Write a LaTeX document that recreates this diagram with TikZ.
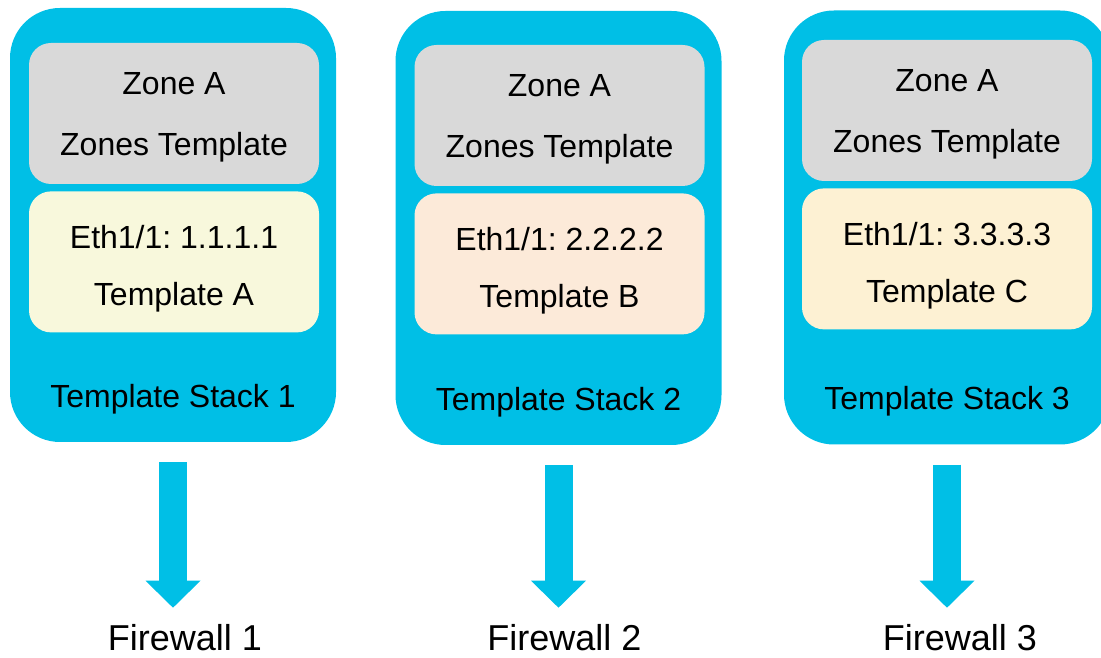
\documentclass[tikz,border=0pt]{standalone}
\usepackage{fontspec}
\setmainfont{Liberation Sans}
\usetikzlibrary{positioning,arrows.meta}
\definecolor{stackblue}{RGB}{0,191,230}
\definecolor{zonegray}{RGB}{217,217,217}
\definecolor{tplyellow}{RGB}{248,248,220}
\definecolor{tplpeach}{RGB}{252,234,217}
\definecolor{tplcream}{RGB}{253,241,211}
\newcommand{\zonelift}{\rule{0pt}{30pt}}
\newcommand{\tpllift}{\rule{0pt}{36pt}}
\frenchspacing
\begin{document}
\begin{tikzpicture}[x=1pt,y=1pt,
        stackbox/.style={fill=stackblue, rounded corners=50pt, minimum width=326pt, minimum height=434pt, inner sep=0pt},
        zonebox/.style={fill=zonegray, rounded corners=22pt, minimum width=290pt, minimum height=141pt, align=center, font=\fontsize{32}{61}\selectfont},
        tplbox/.style={rounded corners=22pt, minimum width=290pt, minimum height=141pt, align=center, font=\fontsize{32}{57}\selectfont},
        stacklabel/.style={anchor=base, font=\fontsize{32}{38}\selectfont},
        fwlabel/.style={anchor=base, inner sep=0pt, font=\fontsize{36}{43}\selectfont},
        push/.style={draw=stackblue, line width=28pt, -{Triangle[width=55pt,length=27pt,line width=0pt]}, shorten <=20pt, shorten >=17pt}]
        \useasboundingbox (0,0) rectangle (1101,658);

        \node[stackbox] (s1) at (173,433) {};
        \node[stackbox] (s2) at (558.5,430) {};
        \node[stackbox] (s3) at (947,430.5) {};

        \node[zonebox] (z1) at (174,544.5) {\zonelift Zone A\\Zones Template};
        \node[zonebox] (z2) at (559.5,542.5) {\zonelift Zone A\\Zones Template};
        \node[zonebox] (z3) at (947,547.5) {\zonelift Zone A\\Zones Template};

        \node[tplbox, fill=tplyellow, below=7pt of z1] (t1) {\tpllift Eth1/1: 1.1.1.1\\Template A};
        \node[tplbox, fill=tplpeach, below=7pt of z2] (t2) {\tpllift Eth1/1: 2.2.2.2\\Template B};
        \node[tplbox, fill=tplcream, below=7pt of z3] (t3) {\tpllift Eth1/1: 3.3.3.3\\Template C};

        \node[stacklabel] (l1) at ([yshift=35pt]s1.south) {Template Stack 1};
        \node[stacklabel] (l2) at ([yshift=35pt]s2.south) {Template Stack 2};
        \node[stacklabel] (l3) at ([yshift=35pt]s3.south) {Template Stack 3};

        \node[fwlabel] (f1) at (185,7) {Firewall 1};
        \node[fwlabel] (f2) at (564.5,7) {Firewall 2};
        \node[fwlabel] (f3) at (960,7) {Firewall 3};

        \draw[push] (s1.south) -- (s1.south |- f1.north);
        \draw[push] (s2.south) -- (s2.south |- f2.north);
        \draw[push] (s3.south) -- (s3.south |- f3.north);
    \end{tikzpicture}
\end{document}
